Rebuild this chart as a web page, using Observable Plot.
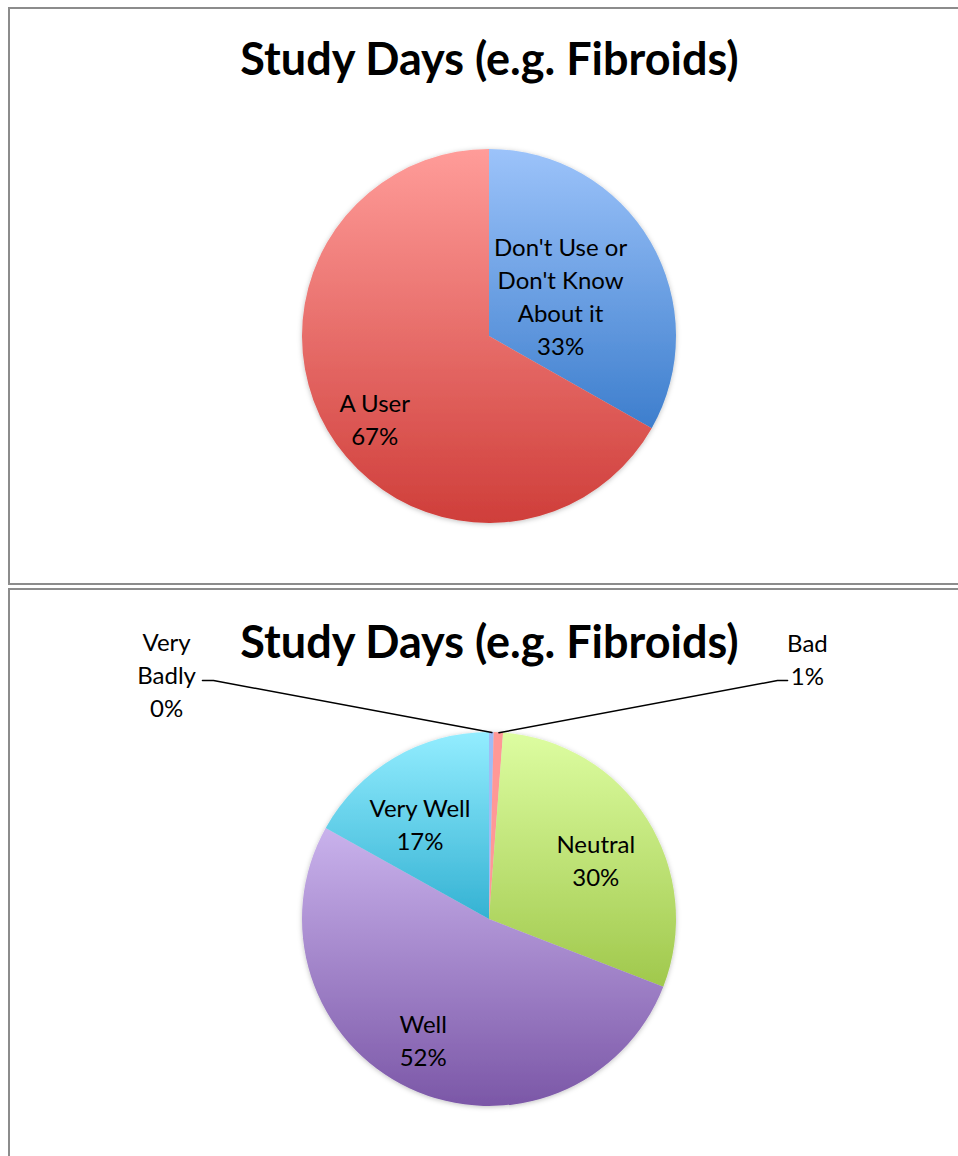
<!DOCTYPE html>
<html>
<head>
<meta charset="utf-8">
<script src="https://cdn.jsdelivr.net/npm/d3@7"></script>
<script src="https://cdn.jsdelivr.net/npm/@observablehq/plot@0.6"></script>
<style>
  html, body { margin: 0; padding: 0; background: #fff; overflow: hidden; width: 958px; height: 1156px; }
  .panel { position: absolute; left: 8px; width: 1000px; border: 2px solid #8c8c8c; box-sizing: border-box; }
  .chart { position: absolute; left: 0; }
</style>
</head>
<body>
<div class="panel" style="top:7px; height:578px;"></div>
<div class="panel" style="top:588px; height:600px;"></div>
<div class="chart" id="c1" style="top:0px;"></div>
<div class="chart" id="c2" style="top:583px;"></div>
<script>
// ---- Data ----
const title = "Study Days (e.g. Fibroids)";

const usageCategories = ["Don't Use or\nDon't Know\nAbout it", "A User"];
const usageValues = [33.2, 66.8];

const ratingCategories = ["Very\nBadly", "Bad", "Neutral", "Well", "Very Well"];
const ratingValues = [0.4, 0.8, 29.7, 52.2, 16.9];

// ---- Styles / layout ----
const usageColors = [["#9cc3fa", "#3d7ecd"], ["#ff9c99", "#cf3e3a"]];
const ratingColors = [["#9dbdf5", "#9dbdf5"], ["#ff9896", "#ff9896"], ["#ddfda1", "#a0c84c"], ["#c9b2ec", "#7b57a7"], ["#93edff", "#34b2d3"]];
// inside-label placement: [radius factor, dx, dy]
const usageLabelPlace = [[0.44, 0, 0], [0.76, 8, 10]];
const ratingLabelPlace = [null, null, [0.64, 5, 3], [0.72, -9, -2], [0.65, -8, 8]];
// outside labels with leader lines (unit coords): label pos, elbow, end
const ratingOutside = {
  0: {label: [-1.727, 1.316], elbow: [-1.476, 1.278], end: [-1.535, 1.278]},
  1: {label: [1.70, 1.401], elbow: [1.540, 1.278], end: [1.594, 1.278]}
};

const FONT = "Lato, 'Open Sans', sans-serif";
const LABEL_SIZE = 24;
const LINE_H = 33 / 24;

function pieMark(vals, colors, id) {
  return (index, scales, values, dimensions, context) => {
    const cx = scales.x(0), cy = scales.y(0), r = scales.x(1) - scales.x(0);
    const arcs = d3.pie().sort(null).value(d => d)(vals);
    const g = d3.create("svg:g");
    const defs = g.append("defs");
    const f = defs.append("filter").attr("id", id + "-shadow").attr("x", "-10%").attr("y", "-10%").attr("width", "120%").attr("height", "120%");
    f.append("feDropShadow").attr("dx", 0).attr("dy", 1).attr("stdDeviation", 2.5).attr("flood-color", "#000").attr("flood-opacity", 0.25);
    colors.forEach((c, i) => {
      const lg = defs.append("linearGradient").attr("id", `${id}-${i}`).attr("x1", 0).attr("y1", 0).attr("x2", 0).attr("y2", 1);
      lg.append("stop").attr("offset", 0).attr("stop-color", c[0]);
      lg.append("stop").attr("offset", 1).attr("stop-color", c[1]);
    });
    const arc = d3.arc().innerRadius(0).outerRadius(r);
    g.append("g")
      .attr("transform", `translate(${cx},${cy})`)
      .attr("filter", `url(#${id}-shadow)`)
      .selectAll("path").data(arcs).join("path")
      .attr("d", arc)
      .attr("fill", (d, i) => `url(#${id}-${i})`);
    return g.node();
  };
}

function insideLabels(cats, vals, place) {
  const arcs = d3.pie().sort(null).value(d => d)(vals);
  const out = [];
  arcs.forEach((a, i) => {
    if (!place[i]) return;
    const mid = (a.startAngle + a.endAngle) / 2;
    const [f, dx, dy] = place[i];
    out.push({x: Math.sin(mid) * f, y: Math.cos(mid) * f, dx, dy,
      text: cats[i] + "\n" + Math.round(vals[i]) + "%"});
  });
  return out;
}

function makeChart(cats, vals, colors, place, outside, id) {
  const arcs = d3.pie().sort(null).value(d => d)(vals);
  const labels = insideLabels(cats, vals, place);
  const outLabels = [], leaders = [];
  Object.entries(outside || {}).forEach(([k, o]) => {
    const i = +k, a = arcs[i];
    const mid = (a.startAngle + a.endAngle) / 2;
    outLabels.push({x: o.label[0], y: o.label[1], text: cats[i] + "\n" + Math.round(vals[i]) + "%"});
    leaders.push({k: i, x: Math.sin(mid), y: Math.cos(mid)});
    leaders.push({k: i, x: o.elbow[0], y: o.elbow[1]});
    leaders.push({k: i, x: o.end[0], y: o.end[1]});
  });
  const marks = [
    pieMark(vals, colors, id),
    Plot.text(labels, {x: "x", y: "y", text: "text", fontSize: LABEL_SIZE, lineHeight: LINE_H, fill: "#000", fontFamily: FONT}),
    Plot.line(leaders, {x: "x", y: "y", z: "k", stroke: "#000", strokeWidth: 1.5}),
    Plot.text(outLabels, {x: "x", y: "y", text: "text", fontSize: LABEL_SIZE, lineHeight: LINE_H, fill: "#000", fontFamily: FONT}),
    Plot.text([title], {x: () => 0, y: () => 1.475, text: d => d, fontSize: 45, fontWeight: "bold", fill: "#000", fontFamily: FONT})
  ];
  const chart = Plot.plot({
    width: 958,
    height: 573,
    margin: 0,
    style: {background: "transparent", overflow: "visible"},
    x: {domain: [-1, 1], range: [302, 676], axis: null},
    y: {domain: [-1, 1], range: [523, 149], axis: null},
    marks
  });
  // apply per-label nudges
  const texts = d3.select(chart).selectAll("g[aria-label='text']").nodes()[0];
  if (texts) {
    d3.select(texts).selectAll("text").each(function(_, j) {
      const l = labels[j];
      if (!l) return;
      const t = d3.select(this).attr("transform") || "";
      d3.select(this).attr("transform", t + ` translate(${l.dx},${l.dy})`);
    });
  }
  return chart;
}

document.getElementById("c1").append(makeChart(usageCategories, usageValues, usageColors, usageLabelPlace, null, "pa"));
document.getElementById("c2").append(makeChart(ratingCategories, ratingValues, ratingColors, ratingLabelPlace, ratingOutside, "pb"));
</script>
</body>
</html>
